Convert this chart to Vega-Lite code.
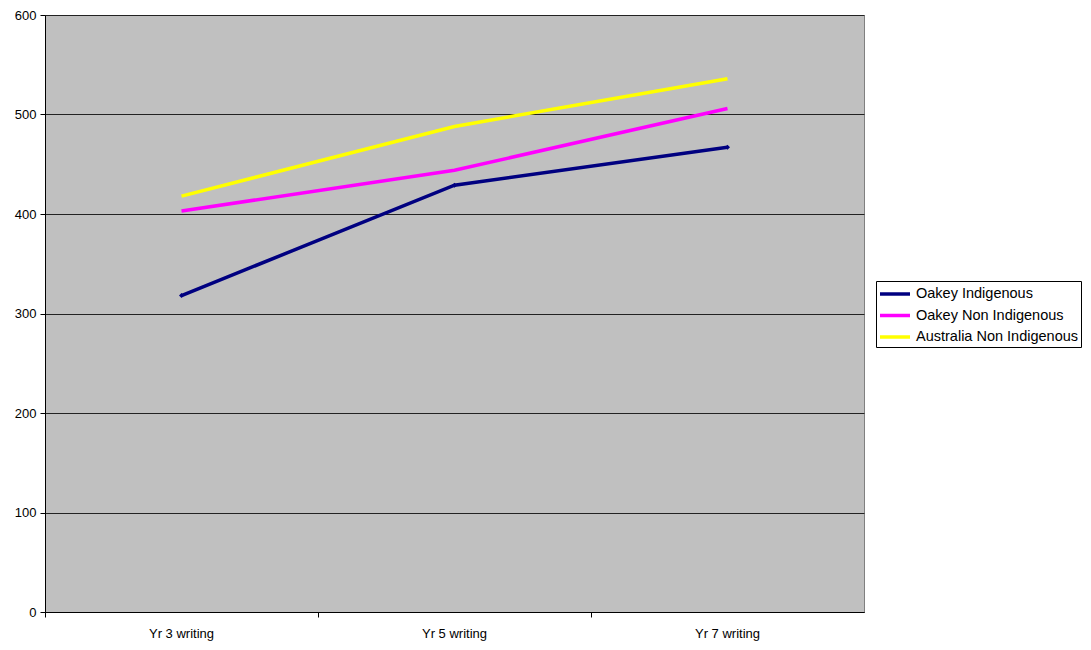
{
  "$schema": "https://vega.github.io/schema/vega-lite/v6.json",
  "autosize": "none",
  "width": 819,
  "height": 597,
  "padding": {"left": 45, "top": 15, "right": 227, "bottom": 38},
  "background": "white",
  "config": {
    "font": "Liberation Sans",
    "view": {"fill": "#C0C0C0", "stroke": "#808080", "strokeWidth": 1},
    "axis": {"labelFont": "Liberation Sans", "labelFontSize": 13, "labelColor": "black", "domainColor": "black", "tickColor": "black", "tickSize": 5}
  },
  "data": {
    "values": [
      {"test": "Yr 3 writing", "series": "Oakey Indigenous", "score": 318},
      {"test": "Yr 5 writing", "series": "Oakey Indigenous", "score": 429},
      {"test": "Yr 7 writing", "series": "Oakey Indigenous", "score": 467},
      {"test": "Yr 3 writing", "series": "Oakey Non Indigenous", "score": 403},
      {"test": "Yr 5 writing", "series": "Oakey Non Indigenous", "score": 444},
      {"test": "Yr 7 writing", "series": "Oakey Non Indigenous", "score": 506},
      {"test": "Yr 3 writing", "series": "Australia Non Indigenous", "score": 418},
      {"test": "Yr 5 writing", "series": "Australia Non Indigenous", "score": 488},
      {"test": "Yr 7 writing", "series": "Australia Non Indigenous", "score": 536}
    ]
  },
  "encoding": {
    "x": {"field": "test", "type": "ordinal", "title": null,
          "scale": {"type": "band", "paddingInner": 0, "paddingOuter": 0},
          "axis": {"labelAngle": 0, "bandPosition": 0, "labelPadding": 10, "grid": false, "domainColor": "black"}},
    "y": {"field": "score", "type": "quantitative", "title": null,
          "scale": {"domain": [0, 600], "nice": false},
          "axis": {"values": [0, 100, 200, 300, 400, 500, 600], "grid": true, "gridColor": "#222222", "gridWidth": 1, "labelPadding": 4, "domainColor": "black"}},
    "color": {"field": "series", "type": "nominal",
              "scale": {"domain": ["Oakey Indigenous", "Oakey Non Indigenous", "Australia Non Indigenous"], "range": ["#000080", "#FF00FF", "#FFFF00"]},
              "legend": {"title": null, "orient": "none", "legendX": 831, "legendY": 266, "symbolType": "M-1.06,0H2.47", "symbolSize": 289, "symbolStrokeWidth": 3.5, "labelFontSize": 14.5, "labelLimit": 0, "labelColor": "black", "strokeColor": "black", "fillColor": "white", "padding": 2.5, "rowPadding": 3.5, "labelOffset": 16.5}}
  },
  "layer": [
    {"mark": {"type": "line", "strokeWidth": 3.5}},
    {"transform": [{"filter": "datum.series == 'Oakey Indigenous'"}],
     "mark": {"type": "point", "shape": "diamond", "filled": true, "size": 25, "opacity": 1}}
  ]
}
